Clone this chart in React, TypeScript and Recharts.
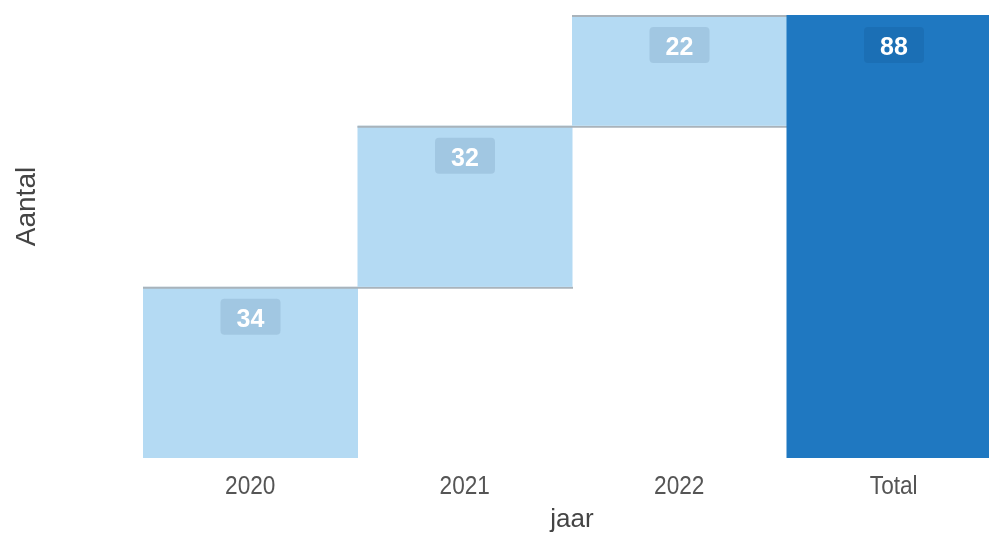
import { BarChart, Bar, XAxis, YAxis, LabelList, Label } from 'recharts';

const categories = ['2020', '2021', '2022', 'Total'];
const amounts = [34, 32, 22, 88];
const isTotal = [false, false, false, true];

const LIGHT = '#b4daf3';
const DARK = '#1f78c1';
const FONT = 'Liberation Sans, Arial, sans-serif';

// running base for the waterfall steps
const data = categories.map((jaar, i) => {
  const base = isTotal[i] ? 0 : amounts.slice(0, i).reduce((s, v) => s + v, 0);
  return { jaar, base, amount: amounts[i], total: isTotal[i] };
});

const StepShape = (props: any) => {
  const { x, y, width, height, payload } = props;
  const fill = payload.total ? DARK : LIGHT;
  return (
    <g>
      <rect x={x} y={y} width={width} height={height} fill={fill} />
      {!payload.total && (
        <line x1={x} x2={x + width * 2} y1={y + 1} y2={y + 1} stroke="#a9b3bb" strokeWidth={2} />
      )}
    </g>
  );
};

const ValueBadge = (props: any) => {
  const { x, y, width, value } = props;
  const cx = x + width / 2;
  const top = y + 12;
  return (
    <g>
      <rect x={cx - 30} y={top} width={60} height={36} rx={4} fill="rgba(0,40,80,0.1)" />
      <text
        x={cx}
        y={top + 28}
        textAnchor="middle"
        fill="#ffffff"
        fontWeight="bold"
        fontSize={25}
        fontFamily={FONT}
      >
        {value}
      </text>
    </g>
  );
};

const CatTick = (props: any) => {
  const { x, y, payload } = props;
  return (
    <text
      transform={`translate(${x}, ${y + 34}) scale(0.87, 1)`}
      textAnchor="middle"
      fill="#555"
      fontSize={26}
      fontFamily={FONT}
    >
      {payload.value}
    </text>
  );
};

const YTitle = (props: any) => {
  const { viewBox } = props;
  const cx = viewBox.x + 25;
  const cy = viewBox.y + viewBox.height / 2 - 30;
  return (
    <text
      x={cx}
      y={cy}
      transform={`rotate(-90, ${cx}, ${cy})`}
      textAnchor="middle"
      dominantBaseline="central"
      fill="#444"
      fontSize={28}
      fontFamily={FONT}
    >
      Aantal
    </text>
  );
};

const XTitle = (props: any) => {
  const { viewBox } = props;
  return (
    <text
      x={viewBox.x + viewBox.width / 2}
      y={viewBox.y + 69}
      textAnchor="middle"
      fill="#444"
      fontSize={26}
      fontFamily={FONT}
    >
      jaar
    </text>
  );
};

export default function App() {
  return (
    <div style={{ position: 'fixed', left: 0, top: 0, width: 989, height: 534, overflow: 'hidden' }}>
      <BarChart
        width={1001}
        height={534}
        data={data}
        margin={{ top: 15, right: 0, left: 0, bottom: 0 }}
        barCategoryGap={0}
      >
        <XAxis
          dataKey="jaar"
          height={76}
          axisLine={false}
          tickLine={false}
          tickSize={0}
          tick={<CatTick />}
        >
          <Label content={<XTitle />} />
        </XAxis>
        <YAxis width={143} domain={[0, 88]} tick={false} axisLine={false} tickLine={false}>
          <Label content={<YTitle />} />
        </YAxis>
        <Bar dataKey="base" stackId="w" fill="transparent" isAnimationActive={false} />
        <Bar dataKey="amount" stackId="w" shape={<StepShape />} isAnimationActive={false}>
          <LabelList dataKey="amount" content={<ValueBadge />} />
        </Bar>
      </BarChart>
    </div>
  );
}
